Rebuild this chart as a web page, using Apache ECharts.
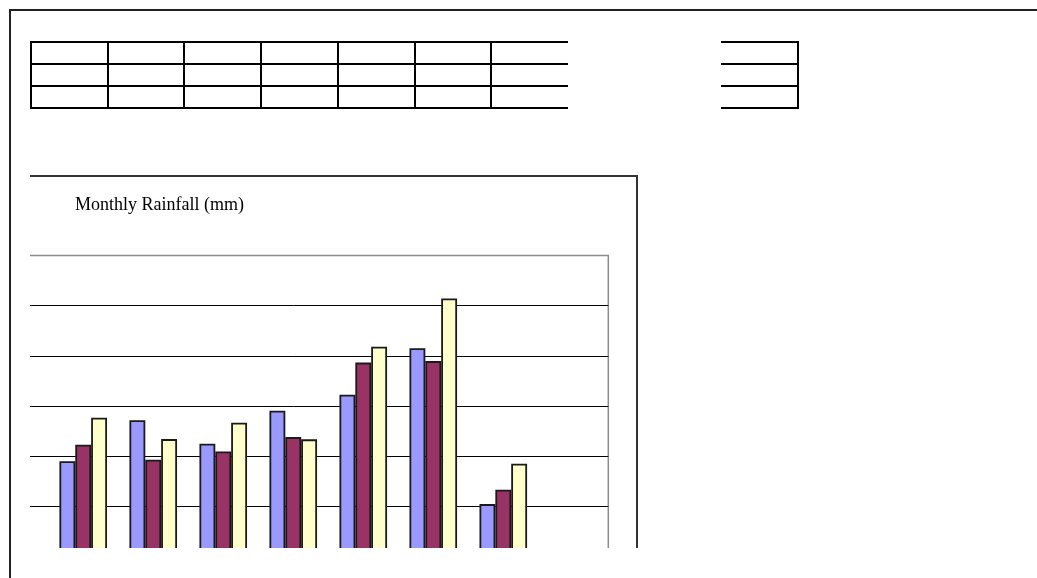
<!DOCTYPE html>
<html>
<head>
<meta charset="utf-8">
<title>Monthly Rainfall (mm)</title>
<script src="https://cdn.jsdelivr.net/npm/echarts@6/dist/echarts.min.js"></script>
<style>
  html, body { margin: 0; padding: 0; background: #fff; width: 1037px; height: 578px; overflow: hidden; }
  #sheet { position: absolute; left: 0; top: 0; }
  /* the chart object sits in a cell range and is cut off by the sheet view */
  #clip { position: absolute; left: 30px; top: 175px; width: 610px; height: 373px; overflow: hidden; }
  #chart { position: absolute; left: -70px; top: 0; width: 740px; height: 445px; }
</style>
</head>
<body>
<svg id="sheet" width="1037" height="578" xmlns="http://www.w3.org/2000/svg">
  <!-- page frame -->
  <rect x="9" y="9" width="1028" height="2" fill="#222"/>
  <rect x="9" y="9" width="2" height="569" fill="#222"/>
  <!-- bordered cell block -->
  <g fill="#000">
    <rect x="30" y="41" width="538" height="2"/>
    <rect x="30" y="63" width="538" height="2"/>
    <rect x="30" y="85" width="538" height="2"/>
    <rect x="30" y="107" width="538" height="2"/>
    <rect x="721" y="41" width="78" height="2"/>
    <rect x="721" y="63" width="78" height="2"/>
    <rect x="721" y="85" width="78" height="2"/>
    <rect x="721" y="107" width="78" height="2"/>
    <rect x="30" y="41" width="2" height="68"/>
    <rect x="107" y="41" width="2" height="68"/>
    <rect x="183" y="41" width="2" height="68"/>
    <rect x="260" y="41" width="2" height="68"/>
    <rect x="337" y="41" width="2" height="68"/>
    <rect x="414" y="41" width="2" height="68"/>
    <rect x="490" y="41" width="2" height="68"/>
    <rect x="797" y="41" width="2" height="68"/>
  </g>
</svg>
<div id="clip"><div id="chart"></div></div>
<script>
// Months on the category axis (outer bands carry no readings)
const months = ['Jan', 'Feb', 'Mar', 'Apr', 'May', 'Jun', 'Jul', 'Aug', 'Sep'];
// Rainfall per month in mm, one array per series
const seriesA = [null, 38.0, 54.3, 45.0, 58.1, 64.5, 83.0, 20.9, null];
const seriesB = [null, 44.6, 38.6, 41.9, 47.6, 77.3, 77.9, 26.6, null];
const seriesC = [null, 55.3, 46.8, 53.3, 46.7, 83.6, 102.9, 37.0, null];
// Value axis range and step (mm)
const yMin = 0;
const yMax = 120;
const yStep = 20;

const chart = echarts.init(document.getElementById('chart'), null, { renderer: 'canvas' });

function barSeries(name, data, color) {
  return {
    name: name,
    type: 'bar',
    data: data,
    barGap: '0%',
    barCategoryGap: '32%',
    itemStyle: { color: color, borderColor: '#1a1a1a', borderWidth: 1.8 },
    emphasis: { disabled: true },
    animation: false
  };
}

chart.setOption({
  animation: false,
  backgroundColor: 'transparent',
  title: {
    text: 'Monthly Rainfall (mm)',
    left: 115,
    top: 21,
    padding: 0,
    textStyle: {
      fontFamily: 'Liberation Serif',
      fontSize: 18,
      fontWeight: 'normal',
      color: '#000'
    }
  },
  graphic: [{
    type: 'rect',
    z: -10,
    silent: true,
    shape: { x: 60, y: 1, width: 617, height: 500 },
    style: { fill: 'none', stroke: '#333', lineWidth: 2 }
  }],
  grid: {
    left: 18.2,
    right: 91.7,
    top: 80.5,
    bottom: 63.5,
    show: true,
    backgroundColor: 'transparent',
    borderColor: '#8c8c8c',
    borderWidth: 1.5,
    containLabel: false,
    outerBoundsMode: 'none'
  },
  xAxis: {
    type: 'category',
    data: months,
    axisLine: { show: false },
    axisTick: { show: false },
    axisLabel: { show: false },
    splitLine: { show: false }
  },
  yAxis: {
    type: 'value',
    min: yMin,
    max: yMax,
    interval: yStep,
    axisLine: { show: false },
    axisTick: { show: false },
    axisLabel: { show: false },
    splitLine: {
      show: true,
      showMaxLine: false,
      lineStyle: { color: '#000', width: 1 }
    }
  },
  tooltip: { show: false },
  legend: { show: false },
  series: [
    barSeries('Series 1', seriesA, '#9999FF'),
    barSeries('Series 2', seriesB, '#993366'),
    barSeries('Series 3', seriesC, '#FFFFCC')
  ]
});
</script>
</body>
</html>
